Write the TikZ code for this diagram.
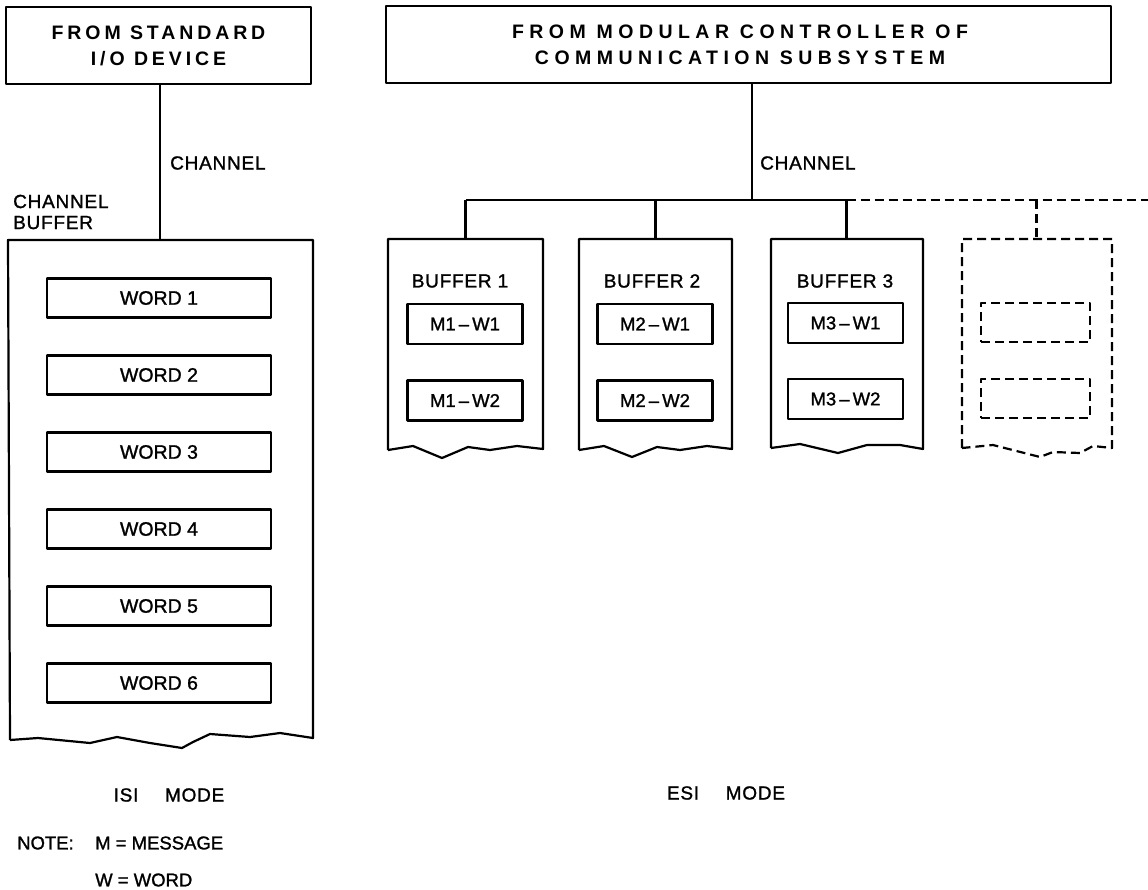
\documentclass[tikz,border=0pt]{standalone}
\usepackage{fontspec}
\setmainfont[FakeBold=1.3]{Liberation Sans}
\newfontfamily\headfontA[LetterSpace=20]{Liberation Sans Bold}
\newfontfamily\headfontB[LetterSpace=28]{Liberation Sans Bold}
\newfontfamily\labfont[LetterSpace=4,FakeBold=1.3]{Liberation Sans}
\begin{document}
\begin{tikzpicture}[x=1pt,y=-1pt,
  ln/.style={line width=2.2pt, line join=round},
  dsh/.style={ln, dash pattern=on 9pt off 5pt},
  headbox/.style={draw, ln, rectangle, inner sep=0pt, align=center},
  wordbox/.style={draw, ln, rectangle, inner sep=0pt, minimum width=224pt, minimum height=39pt, font=\fontsize{19.5}{22}\selectfont},
  mwbox/.style={draw, ln, rectangle, inner sep=0pt, minimum width=115pt, minimum height=40pt, font=\fontsize{18.5}{21}\selectfont},
  lab/.style={inner sep=0pt, font=\labfont\fontsize{19}{21}\selectfont},
]
\useasboundingbox (0,0) rectangle (1148,889);

% ---------------- ISI side ----------------
\node[headbox, minimum width=305pt, minimum height=77pt,
      font=\headfontA\fontsize{19.5}{26}\selectfont] (isihead) at (158.5,45.5)
      {FROM STANDARD\\I/O DEVICE};
\coordinate (isibuftop) at (160,240);
\draw[ln] (isihead.south -| isibuftop) -- (isibuftop);
\node[lab, anchor=west] (isichan) at (170,163) {CHANNEL};
\node[lab, anchor=west, align=left, font=\labfont\fontsize{19}{21}\selectfont] (isibuflab) at (13,212) {CHANNEL\\BUFFER};

% channel buffer outline
\draw[ln] (10,740) -- (8,240) -- (313,240) -- (313,738)
  -- (280,733) -- (250,737) -- (210,734) -- (193,742) -- (182,748)
  -- (150,743) -- (117,737) -- (90,743) -- (38,738) -- (10,740);

\foreach \i/\y in {1/298,2/375,3/452,4/529,5/606,6/683}{
  \node[wordbox] (word\i) at (159,\y) {WORD \i};
}

\node[lab] (isimode) at (169,795) {ISI\hspace{1.4em}MODE};

% ---------------- ESI side ----------------
\node[headbox, minimum width=725pt, minimum height=77pt] (esihead) at (748.5,44.5) {};
\node[inner sep=0pt, align=center, font=\headfontB\fontsize{19.5}{26}\selectfont] (esiheadtxt) at (740,45)
      {FROM MODULAR CONTROLLER OF\\COMMUNICATION SUBSYSTEM};
\coordinate (bus) at (752,200);
\draw[ln] (esihead.south -| bus) -- (bus);
\node[lab, anchor=west] (esichan) at (760,163) {CHANNEL};

\coordinate (b1top) at (465.5,239);
\coordinate (b2top) at (655.5,239);
\coordinate (b3top) at (846.5,239);
\coordinate (b4top) at (1036.5,239);
\coordinate (busL) at (465.5,200);
\coordinate (busR) at (846.5,200);
\coordinate (busend) at (1148,200);

\draw[ln] (busL) -- (busR);
\draw[dsh] (busR) -- (busend);
\draw[ln] (busL) -- (b1top);
\draw[ln] (b2top |- bus) -- (b2top);
\draw[ln] (busR) -- (b3top);
\draw[dsh] (b4top |- bus) -- (b4top);

% buffer outlines
\draw[ln] (388,450) -- (388,239) -- (543,239) -- (543,449)
  -- (517,446) -- (490,450) -- (468,447) -- (442,458) -- (413,446) -- (388,450);
\draw[ln] (579,450) -- (579,239) -- (732,239) -- (732,449)
  -- (707,446) -- (680,450) -- (657,447) -- (632,457) -- (604,446) -- (579,450);
\draw[ln] (771,448) -- (771,239) -- (923,239) -- (923,449)
  -- (900,445) -- (867,445) -- (838,453) -- (800,444) -- (771,448);
\draw[dsh] (962,448) -- (962,239) -- (1112,239) -- (1112,448)
  -- (1093,446) -- (1080,453) -- (1053,452) -- (1040,457) -- (993,445) -- (962,448);

\node[lab] (buf1lab) at (460,281) {BUFFER 1};
\node[lab] (buf2lab) at (652,281) {BUFFER 2};
\node[lab] (buf3lab) at (845,281) {BUFFER 3};

\node[mwbox] (m1w1) at (465,324) {M1\,--\,W1};
\node[mwbox] (m1w2) at (465,400.5) {M1\,--\,W2};
\node[mwbox] (m2w1) at (655,324) {M2\,--\,W1};
\node[mwbox] (m2w2) at (655,400.5) {M2\,--\,W2};
\node[mwbox] (m3w1) at (845.5,323) {M3\,--\,W1};
\node[mwbox] (m3w2) at (845.5,399) {M3\,--\,W2};
\node[mwbox, dsh, minimum width=109pt, minimum height=39pt] (m4w1) at (1035.5,322.5) {};
\node[mwbox, dsh, minimum width=109pt, minimum height=39pt] (m4w2) at (1035.5,398.5) {};

\node[lab] (esimode) at (726,793) {ESI\hspace{1.4em}MODE};

% ---------------- note ----------------
\node[lab, anchor=west, font=\fontsize{18.5}{20}\selectfont] (note) at (17,843) {NOTE:};
\node[lab, anchor=west, font=\fontsize{18.5}{20}\selectfont] (notem) at (95,843) {M = MESSAGE};
\node[lab, anchor=west, font=\fontsize{18.5}{20}\selectfont] (notew) at (95,880) {W = WORD};
\end{tikzpicture}
\end{document}
